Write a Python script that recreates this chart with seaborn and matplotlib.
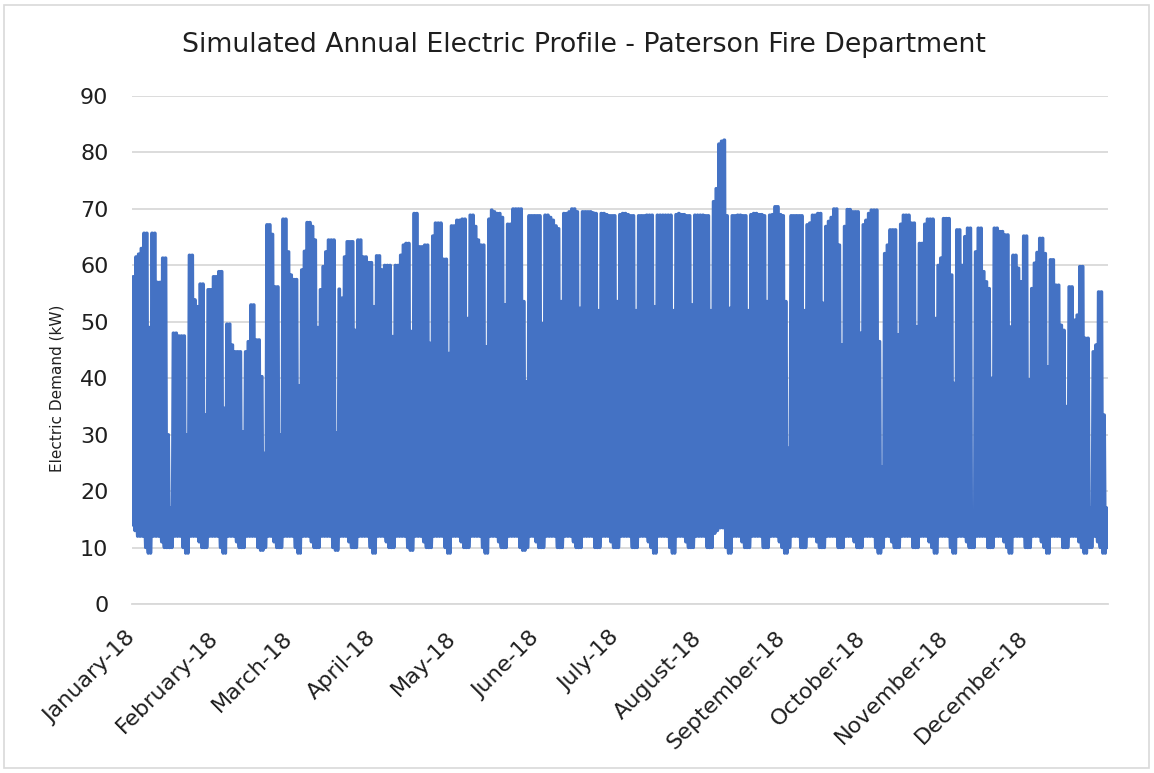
import matplotlib
matplotlib.use("Agg")
import matplotlib.pyplot as plt
import matplotlib.dates as mdates
from matplotlib.patches import Rectangle
import seaborn as sns
import pandas as pd

# daily peak demand (kW), one row per week (Mon..Sun)
daily_peak_kw = [
    58.0, 61.5, 62.0, 63.0, 65.7, 65.7, 49.0,
    65.7, 65.7, 57.0, 57.0, 61.3, 61.3, 30.0,
    17.0, 48.0, 48.0, 47.5, 47.5, 47.5, 30.0,
    61.8, 61.8, 53.9, 52.7, 56.7, 56.7, 33.5,
    55.7, 55.7, 58.0, 58.0, 58.9, 58.9, 34.7,
    49.6, 49.6, 45.9, 44.7, 44.7, 44.7, 30.5,
    44.7, 46.5, 53.0, 53.0, 46.8, 46.8, 40.3,
    26.7, 67.2, 67.2, 65.5, 56.2, 56.2, 30.0,
    68.2, 68.2, 62.4, 58.3, 57.5, 57.5, 38.7,
    59.2, 62.5, 67.6, 67.6, 66.9, 64.5, 49.0,
    55.7, 59.8, 62.4, 64.5, 64.5, 64.5, 30.3,
    55.8, 54.2, 61.5, 64.2, 64.2, 64.2, 48.5,
    64.5, 64.5, 61.5, 61.5, 60.5, 60.5, 52.7,
    61.7, 61.7, 59.2, 60.0, 60.0, 60.0, 47.4,
    60.0, 60.0, 61.8, 63.6, 63.9, 63.9, 48.3,
    69.2, 69.2, 63.3, 63.3, 63.6, 63.6, 46.2,
    65.2, 67.5, 67.5, 67.5, 61.1, 61.1, 44.4,
    67.0, 67.0, 68.0, 68.0, 68.2, 68.2, 50.6,
    68.9, 68.9, 66.9, 64.5, 63.6, 63.6, 45.6,
    68.2, 69.8, 69.5, 69.2, 69.2, 68.5, 53.0,
    67.3, 67.3, 70.0, 70.0, 70.0, 70.0, 53.6,
    39.4, 68.8, 68.8, 68.8, 68.8, 68.8, 49.7,
    68.9, 68.9, 68.5, 68.0, 67.0, 66.5, 53.6,
    69.2, 69.2, 69.5, 70.0, 70.0, 69.5, 52.4,
    69.5, 69.5, 69.5, 69.5, 69.3, 69.2, 52.0,
    69.2, 69.2, 69.0, 68.8, 68.8, 68.8, 53.6,
    69.0, 69.2, 69.2, 69.0, 68.8, 68.8, 52.0,
    68.8, 68.8, 68.8, 68.9, 68.9, 68.9, 52.7,
    68.9, 68.9, 68.9, 68.9, 68.9, 68.9, 52.0,
    69.0, 69.2, 69.0, 69.0, 68.8, 68.8, 53.0,
    68.9, 68.9, 68.9, 68.9, 68.8, 68.8, 52.0,
    71.3, 73.6, 81.5, 82.0, 82.2, 68.8, 52.4,
    68.8, 68.8, 68.9, 68.9, 68.8, 68.8, 52.0,
    69.0, 69.2, 69.2, 69.0, 69.0, 68.8, 53.6,
    68.9, 69.0, 70.4, 70.4, 69.0, 68.8, 53.6,
    27.6, 68.8, 68.8, 68.8, 68.8, 68.8, 52.0,
    67.2, 67.5, 68.9, 68.9, 69.2, 69.2, 53.3,
    66.9, 67.8, 68.5, 70.0, 70.0, 63.6, 45.9,
    66.9, 69.9, 69.9, 69.5, 69.5, 69.5, 48.0,
    67.2, 68.0, 69.2, 69.8, 69.8, 69.8, 46.5,
    24.3, 62.1, 63.6, 66.3, 66.3, 66.3, 47.7,
    67.3, 68.9, 68.9, 68.9, 67.5, 67.5, 49.1,
    63.9, 63.9, 67.3, 68.2, 68.2, 68.2, 50.6,
    60.0, 61.3, 68.3, 68.3, 68.3, 58.3, 39.1,
    66.3, 66.3, 60.0, 65.1, 66.6, 66.6, 15.2,
    62.4, 66.6, 66.6, 58.9, 57.1, 55.9, 40.0,
    66.6, 66.6, 66.0, 66.0, 65.4, 65.4, 49.1,
    61.8, 61.8, 59.5, 57.1, 65.2, 65.2, 39.7,
    55.9, 60.4, 62.3, 64.8, 64.8, 62.1, 42.0,
    61.0, 61.0, 56.5, 56.5, 49.4, 48.5, 35.0,
    56.2, 56.2, 50.3, 51.2, 59.8, 59.8, 47.1,
    47.1, 17.0, 44.7, 45.9, 55.3, 55.3, 33.5,
    17.0,
]

# overnight base demand (kW), one row per week (Mon..Sun)
daily_base_kw = [
    14.0, 13.0, 12.0, 12.0, 12.0, 10.0, 9.0,
    12.0, 12.0, 12.0, 12.0, 11.0, 10.0, 10.0,
    10.0, 12.0, 12.0, 12.0, 12.0, 10.0, 9.0,
    12.0, 12.0, 12.0, 12.0, 11.0, 10.0, 10.0,
    12.0, 12.0, 12.0, 12.0, 12.0, 10.0, 9.0,
    12.0, 12.0, 12.0, 12.0, 11.0, 10.0, 10.0,
    12.0, 12.0, 12.0, 12.0, 12.0, 10.0, 9.5,
    10.0, 12.0, 12.0, 12.0, 11.0, 10.0, 10.0,
    12.0, 12.0, 12.0, 12.0, 12.0, 10.0, 9.0,
    12.0, 12.0, 12.0, 12.0, 11.0, 10.0, 10.0,
    12.0, 12.0, 12.0, 12.0, 12.0, 10.0, 9.5,
    12.0, 12.0, 12.0, 12.0, 11.0, 10.0, 10.0,
    12.0, 12.0, 12.0, 12.0, 12.0, 10.0, 9.0,
    12.0, 12.0, 12.0, 12.0, 11.0, 10.0, 10.0,
    12.0, 12.0, 12.0, 12.0, 12.0, 10.0, 9.5,
    12.0, 12.0, 12.0, 12.0, 11.0, 10.0, 10.0,
    12.0, 12.0, 12.0, 12.0, 12.0, 10.0, 9.0,
    12.0, 12.0, 12.0, 12.0, 11.0, 10.0, 10.0,
    12.0, 12.0, 12.0, 12.0, 12.0, 10.0, 9.0,
    12.0, 12.0, 12.0, 12.0, 11.0, 10.0, 10.0,
    12.0, 12.0, 12.0, 12.0, 12.0, 10.0, 9.5,
    10.0, 12.0, 12.0, 12.0, 11.0, 10.0, 10.0,
    12.0, 12.0, 12.0, 12.0, 12.0, 10.0, 10.0,
    12.0, 12.0, 12.0, 12.0, 11.0, 10.0, 10.0,
    12.0, 12.0, 12.0, 12.0, 12.0, 10.0, 10.0,
    12.0, 12.0, 12.0, 12.0, 11.0, 10.0, 10.0,
    12.0, 12.0, 12.0, 12.0, 12.0, 10.0, 10.0,
    12.0, 12.0, 12.0, 12.0, 11.0, 10.0, 9.0,
    12.0, 12.0, 12.0, 12.0, 12.0, 10.0, 9.0,
    12.0, 12.0, 12.0, 12.0, 11.0, 10.0, 10.0,
    12.0, 12.0, 12.0, 12.0, 12.0, 10.0, 10.0,
    12.5, 13.0, 13.5, 13.5, 13.5, 10.0, 9.0,
    12.0, 12.0, 12.0, 12.0, 11.0, 10.0, 10.0,
    12.0, 12.0, 12.0, 12.0, 12.0, 10.0, 10.0,
    12.0, 12.0, 12.0, 12.0, 11.0, 10.0, 9.0,
    10.0, 12.0, 12.0, 12.0, 12.0, 10.0, 10.0,
    12.0, 12.0, 12.0, 12.0, 11.0, 10.0, 10.0,
    12.0, 12.0, 12.0, 12.0, 12.0, 10.0, 10.0,
    12.0, 12.0, 12.0, 12.0, 11.0, 10.0, 10.0,
    12.0, 12.0, 12.0, 12.0, 12.0, 10.0, 9.0,
    10.0, 12.0, 12.0, 12.0, 11.0, 10.0, 10.0,
    12.0, 12.0, 12.0, 12.0, 12.0, 10.0, 10.0,
    12.0, 12.0, 12.0, 12.0, 11.0, 10.0, 9.0,
    12.0, 12.0, 12.0, 12.0, 12.0, 10.0, 9.0,
    12.0, 12.0, 12.0, 12.0, 11.0, 10.0, 10.0,
    12.0, 12.0, 12.0, 12.0, 12.0, 10.0, 10.0,
    12.0, 12.0, 12.0, 12.0, 11.0, 10.0, 9.0,
    12.0, 12.0, 12.0, 12.0, 12.0, 10.0, 10.0,
    12.0, 12.0, 12.0, 12.0, 11.0, 10.0, 9.0,
    12.0, 12.0, 12.0, 12.0, 12.0, 10.0, 10.0,
    12.0, 12.0, 12.0, 12.0, 11.0, 10.0, 9.0,
    12.0, 10.0, 12.0, 12.0, 11.0, 10.0, 9.0,
    10.0,
]

# first two hours of the year
start_hours = [0, 1]
start_kw = [22.0, 14.0]

# hours of each day where the base and peak values sit
base_hours = [2, 23]
peak_hours = [10, 15]

month_labels = ["January-18", "February-18", "March-18", "April-18", "May-18",
                "June-18", "July-18", "August-18", "September-18", "October-18",
                "November-18", "December-18", ""]

# build the hourly-ish series
days = pd.date_range("2018-01-01", periods=len(daily_peak_kw), freq="D")
times = [days[0] + pd.Timedelta(hours=h) for h in start_hours]
values = list(start_kw)
for day, peak, base in zip(days, daily_peak_kw, daily_base_kw):
    times += [day + pd.Timedelta(hours=base_hours[0]),
              day + pd.Timedelta(hours=peak_hours[0]),
              day + pd.Timedelta(hours=peak_hours[1]),
              day + pd.Timedelta(hours=base_hours[1])]
    values += [base, peak, peak, base]
profile_df = pd.DataFrame({"time": times, "kW": values})

sns.set_style("white")
plt.rcParams["font.family"] = ["DejaVu Sans"]
text_color = "#1f1f1f"
grid_color = "#D9D9D9"

fig = plt.figure(figsize=(11.54, 7.73), dpi=100)
ax = fig.add_axes([132 / 1154, 1 - 604 / 773, 976 / 1154, 508 / 773])

sns.lineplot(data=profile_df, x="time", y="kW", ax=ax, color="#4472C4",
             linewidth=2.3, estimator=None, sort=False)
for line in ax.get_lines():
    line.set_solid_capstyle("round")
    line.set_solid_joinstyle("round")

ax.set_ylim(0, 90)
ax.set_yticks(range(0, 91, 10))
ax.yaxis.grid(True, color=grid_color, linewidth=1.3)
ax.set_axisbelow(True)

month_ticks = pd.date_range("2018-01-01", "2019-01-01", freq="MS")
ax.set_xlim(mdates.date2num(month_ticks[0]), mdates.date2num(month_ticks[-1]))
ax.set_xticks(mdates.date2num(month_ticks))
ax.set_xticklabels(month_labels, rotation=45, ha="right", va="center",
                   rotation_mode="anchor")

for side in ["top", "right", "left"]:
    ax.spines[side].set_visible(False)
ax.spines["bottom"].set_color(grid_color)
ax.spines["bottom"].set_linewidth(1.3)
ax.tick_params(axis="x", length=6, width=1.3, color=grid_color, pad=16,
               labelsize=16, labelcolor=text_color, direction="out")
ax.tick_params(axis="y", length=0, pad=17, labelsize=16, labelcolor=text_color)

ax.set_xlabel("")
ax.set_ylabel("")
fig.text(57 / 1154, 1 - 388 / 773, "Electric Demand (kW)", rotation=90,
         ha="center", va="center", fontsize=11, color=text_color)
fig.text(584 / 1154, 1 - 45 / 773,
         "Simulated Annual Electric Profile - Paterson Fire Department",
         ha="center", va="center", fontsize=19.3, color=text_color)

fig.patches.append(Rectangle((4 / 1154, 5 / 773), 1145 / 1154, 763 / 773,
                             transform=fig.transFigure, fill=False,
                             edgecolor=grid_color, linewidth=1.2))

fig.savefig("out.png", dpi=100)
